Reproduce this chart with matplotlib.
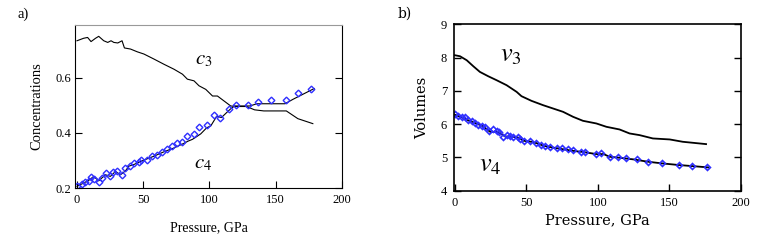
import numpy as np
import matplotlib
matplotlib.use('Agg')
import matplotlib.pyplot as plt

plt.rcParams['mathtext.fontset'] = 'stix'
plt.rcParams['font.family'] = ['Liberation Serif', 'DejaVu Serif']

# --- panel a: concentrations vs pressure
c3_p = [0, 5, 8, 10.6, 14, 16.4, 20.2, 23.2, 25.7, 27.8, 30.8, 34, 35.8, 40.4, 45.5, 50.5,
        58, 65.6, 73.2, 79.6, 83.3, 88.3, 92.1, 97.2, 102.3, 106, 111, 116, 120, 128,
        134, 141, 158, 166.7, 178]
c3_v = [0.733, 0.742, 0.745, 0.730, 0.742, 0.749, 0.733, 0.727, 0.733, 0.727, 0.725, 0.733,
        0.707, 0.703, 0.693, 0.685, 0.667, 0.648, 0.630, 0.612, 0.594, 0.588, 0.570, 0.557,
        0.533, 0.533, 0.515, 0.497, 0.495, 0.495, 0.483, 0.479, 0.479, 0.451, 0.433]

c4_p = [0, 5, 9, 12.6, 16.4, 21.5, 25.2, 29, 32.8, 36.6, 39.1, 42.9, 50.5, 58, 65.6, 73.2,
        80.8, 84, 87.1, 90, 93.4, 97.9, 101, 105.5, 109, 115.6, 119, 130.6, 135.7, 157,
        163, 170.8, 179]
c4_v = [0.206, 0.218, 0.228, 0.242, 0.226, 0.248, 0.242, 0.260, 0.248, 0.262, 0.279, 0.285,
        0.301, 0.315, 0.331, 0.345, 0.362, 0.370, 0.376, 0.385, 0.396, 0.418, 0.425, 0.460,
        0.455, 0.485, 0.497, 0.497, 0.505, 0.505, 0.521, 0.540, 0.560]

c4m_p = [0, 3.8, 6.3, 8.8, 10.6, 13.1, 16.4, 19, 22.2, 24.7, 27.3, 30.3, 34.1, 36.6, 39.9,
         43.4, 46.7, 48.5, 53, 56.8, 60.6, 64.4, 68.2, 72, 75.8, 79, 83.3, 88.3, 92.1, 98.5,
         103.5, 108, 114.5, 120, 128.8, 136.4, 146.5, 157.8, 166.7, 176.8]
c4m_v = [0.208, 0.215, 0.220, 0.226, 0.240, 0.234, 0.220, 0.236, 0.255, 0.242, 0.257, 0.260,
         0.248, 0.273, 0.281, 0.291, 0.293, 0.303, 0.300, 0.315, 0.321, 0.329, 0.342, 0.351,
         0.364, 0.368, 0.390, 0.394, 0.422, 0.427, 0.463, 0.455, 0.487, 0.499, 0.499, 0.511,
         0.517, 0.517, 0.543, 0.557]

# --- panel b: volumes vs pressure
v3_p = [0, 3.5, 8.2, 12.8, 17.4, 23.2, 29.1, 36.1, 43.1, 46.5, 53.5, 61.6, 68.6, 75.6, 82.6,
        89.5, 98.9, 105.9, 115.1, 122.1, 129.1, 138.4, 150.2, 159.3, 175.6]
v3_v = [8.07, 8.04, 7.92, 7.74, 7.57, 7.44, 7.32, 7.17, 6.97, 6.84, 6.70, 6.57, 6.47, 6.37,
        6.22, 6.10, 6.02, 5.92, 5.84, 5.72, 5.67, 5.57, 5.54, 5.47, 5.40]

v4_p = [0, 5, 10, 15, 20, 23, 25, 29, 32, 35, 40, 44, 48, 52, 57, 62, 68, 75, 82, 90, 99,
        104, 108, 115, 125, 135, 145, 157, 166, 177]
v4_v = [6.28, 6.20, 6.10, 6.02, 5.93, 5.82, 5.76, 5.78, 5.72, 5.63, 5.62, 5.60, 5.50, 5.48,
        5.43, 5.35, 5.30, 5.25, 5.20, 5.16, 5.10, 5.10, 5.02, 4.99, 4.94, 4.87, 4.82, 4.77,
        4.74, 4.70]

v4m_p = [0, 2.3, 4.7, 7, 9.3, 11.7, 14, 16.3, 18.6, 20.9, 23.9, 26.3, 29.1, 31, 33.7, 36.1,
         38.4, 40.7, 44.2, 45.8, 48.5, 52.3, 57, 60.5, 62.8, 66.3, 71, 74.5, 79.1, 82.6, 88.4,
         90.7, 98.9, 102.4, 108.6, 113.7, 119.5, 127, 135.2, 144.7, 156.8, 166, 176.5]
v4m_v = [6.30, 6.25, 6.22, 6.20, 6.12, 6.08, 6.03, 5.98, 5.95, 5.90, 5.79, 5.85, 5.79, 5.75,
         5.62, 5.68, 5.63, 5.62, 5.62, 5.55, 5.50, 5.49, 5.42, 5.37, 5.33, 5.32, 5.29, 5.27,
         5.24, 5.22, 5.17, 5.17, 5.10, 5.14, 5.02, 5.00, 4.97, 4.94, 4.87, 4.82, 4.77, 4.74,
         4.70]

blue = '#2f2fff'
fig = plt.figure(figsize=(7.63, 2.41), dpi=100)

# ---------------- a)
ax = fig.add_axes([0.0983, 0.2199, 0.3499, 0.6763])
ax.plot(c3_p, c3_v, color='black', lw=0.8)
ax.plot(c4_p, c4_v, color='black', lw=0.8)
ax.plot(c4m_p, c4m_v, ls='none', marker='D', ms=3.4, mfc='none', mec=blue, mew=1.0)
ax.set_xlim(-1.5, 200)
ax.set_ylim(0.2, 0.79)
ax.set_xticks([0, 50, 100, 150, 200])
ax.set_yticks([0.2, 0.4, 0.6])
ax.set_yticklabels(['0.2', '0.4', '0.6'])
ax.tick_params(direction='in', length=5, width=0.8, labelsize=9, right=True, pad=2.5)
ax.tick_params(axis='x', pad=4.5)
for s in ax.spines.values():
    s.set_linewidth(0.8)
ax.spines['top'].set_color('#999999')
ax.set_xlabel('Pressure, GPa', fontsize=10, labelpad=11)
ax.set_ylabel('Concentrations', fontsize=10.5, labelpad=9)
ax.text(96, 0.663, '$c_3$', fontsize=15, ha='center', va='center')
ax.text(95.4, 0.288, '$c_4$', fontsize=15, ha='center', va='center')
fig.text(18 / 763, 1 - 14 / 241, 'a)', fontsize=10.5, ha='left', va='center')

# ---------------- b)
bx = fig.add_axes([0.595, 0.2087, 0.3761, 0.6905])
bx.plot(v3_p, v3_v, color='black', lw=1.3)
bx.plot(v4_p, v4_v, color='black', lw=1.3)
bx.plot(v4m_p, v4m_v, ls='none', marker='D', ms=3.0, mfc='none', mec=blue, mew=1.2)
bx.set_xlim(-0.7, 200)
bx.set_ylim(4, 9)
bx.set_xticks([0, 50, 100, 150, 200])
bx.set_yticks([4, 5, 6, 7, 8, 9])
bx.tick_params(direction='in', length=5, width=1.0, labelsize=9, right=True, pad=5)
bx.tick_params(axis='x', pad=4.5)
for s in bx.spines.values():
    s.set_linewidth(1.2)
bx.set_xlabel('Pressure, GPa', fontsize=10.5, family='DejaVu Serif', labelpad=3)
bx.set_ylabel('Volumes', fontsize=10.5, family='DejaVu Serif', labelpad=8)
bx.text(39, 8.06, '$v_3$', fontsize=19, ha='center', va='center')
bx.text(24.8, 4.73, '$v_4$', fontsize=19, ha='center', va='center')
fig.text(398 / 763, 1 - 14 / 241, 'b)', fontsize=10, family='DejaVu Serif', ha='left', va='center')

fig.savefig('out.png', dpi=100)
